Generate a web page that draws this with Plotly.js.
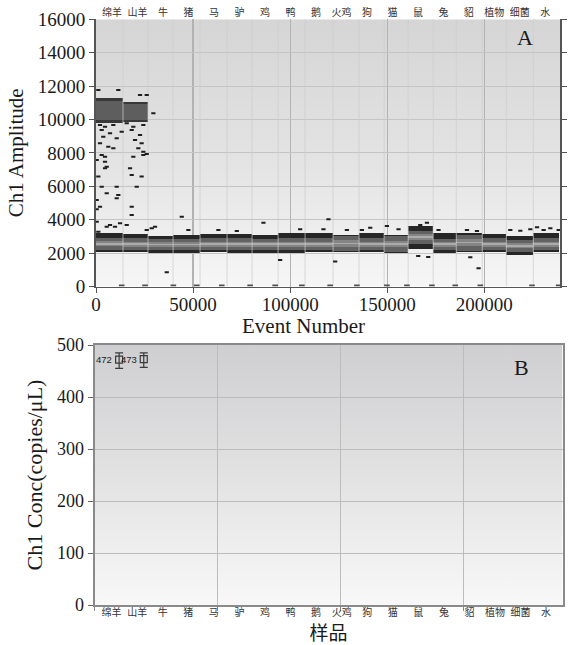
<!DOCTYPE html>
<html>
<head>
<meta charset="utf-8">
<script src="https://cdn.plot.ly/plotly-3.0.1.min.js"></script>
<style>html,body{margin:0;padding:0;background:#fff;}#chart{width:568px;height:645px;}</style>
</head>
<body>
<div id="chart"></div>
<script>
// ---------- DATA ----------
const samples = ['绵羊','山羊','牛','猪','马','驴','鸡','鸭','鹅','火鸡','狗','猫','鼠','兔','貂','植物','细菌','水'];
const eventCounts = [13900,12900,12900,13900,13900,12900,13400,13900,14400,13400,12900,12400,12900,11900,13400,12400,13900,13400];
// negative droplet band (amplitude)
const negLow      = [2050,2050,2000,1980,2050,2000,2000,2000,2050,2080,2050,1990,2250,2030,2080,2050,1890,2080];
const negHigh     = [3200,3150,3050,3100,3150,3150,3100,3200,3200,3080,3200,3100,3650,3200,3180,3150,3000,3200];
const negCoreLow  = [2200,2200,2180,2180,2200,2200,2200,2200,2200,2150,2200,2080,2550,2200,2150,2200,2080,2200];
const negCoreHigh = [2900,2880,2850,2850,2880,2880,2870,2880,2880,3000,2880,3000,3350,2870,3100,2880,2780,2880];
// positive droplet cluster
const posLow  = [9800, 9850, null,null,null,null,null,null,null,null,null,null,null,null,null,null,null,null];
const posHigh = [11300,11050,null,null,null,null,null,null,null,null,null,null,null,null,null,null,null,null];
// individual scattered droplets (event number, amplitude)
const rainEvent = [1190,11500,22680,26130,29540,2060,4640,8920,15830,19230,24380,2940,7220,13250,18400,22680,3760,10670,20100,2060,6340,8920,23510,21800,24380,2940,4640,19230,24380,360,4640,17530,4640,18400,23510,1190,2940,10670,20980,5520,11500,360,10670,2060,18400,18400,360,7220,9790,12370,30410,28710,5520,26130,5520,44180,360,15830,26130,47580,63040,72530,86240,1190,36440,94850,119740,141240,149850,170470,123200,192790,197060,105150,117160,129230,136960,155830,167010,176440,191080,196230,213400,218560,223710,227170,230570,234020,238300,165980,171130];
const rainAmp   = [11770,11770,11470,11470,10370,9670,9570,9670,9770,9570,9670,9370,9170,9270,9370,9070,8970,8880,8770,8580,8370,8280,8580,8280,8070,7880,7770,7770,7880,7580,7470,7080,7080,6680,6580,6580,5980,5980,5980,5580,5480,5180,5280,4780,4780,4280,3880,3680,3580,3790,3580,3490,3580,7940,7170,4180,4620,3680,3380,3380,3380,3320,3820,3280,850,1590,4020,3520,3620,3820,1490,1750,1090,3430,3430,3380,3380,3430,3680,3380,3380,3320,3380,3340,3430,3550,3380,3490,3380,1830,1770];
const zeroEvent = [13250,25260,39840,51900,64790,79380,92270,106030,120620,134380,149850,160160,173040,185050,197940,224590,238300];
const zeroAmp   = [60,60,60,60,60,60,60,60,60,60,60,60,60,60,60,60,60];
// panel B: concentration per well
const concWell     = [1, 2];
const concValue    = [472, 473];
const concErrPlus  = [13, 12];
const concErrMinus = [17, 16];

// ---------- DERIVED ----------
const centers = [], bounds = [];
let acc = 0;
eventCounts.forEach(c => { centers.push(acc + c/2); acc += c; bounds.push(acc); });
const diff = (hi, lo) => hi.map((h,i) => (h==null||lo[i]==null) ? null : h - lo[i]);
const innerLow  = negCoreLow.map((l,i) => l + 0.28*(negCoreHigh[i]-l));
const innerHigh = negCoreHigh.map((h,i) => h - 0.28*(h-negCoreLow[i]));
const midLine   = negCoreLow.map((l,i) => (l + negCoreHigh[i])/2);
const stripeLow = midLine.map(m => m - 45);
const stripeHigh= midLine.map(m => m + 45);
const posInLow  = posLow.map((l,i) => l==null?null: l + 0.1*(posHigh[i]-l));
const posInHigh = posHigh.map((h,i) => h==null?null: h - 0.12*(h-posLow[i]));
const bx = [], by = [];
bounds.slice(0,-1).forEach(b => { bx.push(b,b,null); by.push(0,16000,null); });

function barLayer(lo, hi, color){
  return {type:'bar', x:centers, base:lo, y:diff(hi,lo), width:eventCounts,
    marker:{color:color, line:{width:0}}, xaxis:'x', yaxis:'y', hoverinfo:'skip', showlegend:false};
}

const serif = "'Liberation Serif', 'Times New Roman', serif";
const cjk = "'Noto Sans CJK SC', sans-serif";

const traces = [
  barLayer(posLow, posHigh, '#383838'),
  barLayer(posInLow, posInHigh, '#5e5e5e'),
  barLayer(negLow, negHigh, '#262626'),
  barLayer(negCoreLow, negCoreHigh, '#626262'),
  barLayer(innerLow, innerHigh, '#858585'),
  barLayer(stripeLow, stripeHigh, '#ababab'),
  {type:'scatter', mode:'lines', x:bx, y:by, line:{color:'rgba(205,205,205,0.6)', width:1.2},
   xaxis:'x', yaxis:'y', hoverinfo:'skip', showlegend:false},
  {type:'scatter', mode:'markers', x:rainEvent, y:rainAmp,
   marker:{symbol:'line-ew', size:3, line:{width:2, color:'#1e1e1e'}},
   xaxis:'x', yaxis:'y', showlegend:false, cliponaxis:true},
  {type:'scatter', mode:'markers', x:zeroEvent, y:zeroAmp,
   marker:{symbol:'line-ew', size:4, line:{width:2.2, color:'#505050'}},
   xaxis:'x', yaxis:'y', showlegend:false, cliponaxis:true},
  {type:'scatter', mode:'markers', x:samples.map((s,i)=>i), y:samples.map(()=>null),
   xaxis:'x3', yaxis:'y', showlegend:false, hoverinfo:'skip'},
  {type:'scatter', mode:'markers', x:concWell, y:concValue,
   marker:{symbol:'square-open', size:7, color:'#3a3a3a', line:{width:1.2}},
   error_y:{type:'data', symmetric:false, array:concErrPlus, arrayminus:concErrMinus, color:'#3a3a3a', thickness:1.2, width:4},
   xaxis:'x2', yaxis:'y2', showlegend:false},
  {type:'scatter', mode:'markers', x:samples.map((s,i)=>i), y:samples.map(()=>null),
   xaxis:'x4', yaxis:'y2', showlegend:false, hoverinfo:'skip'}
];

function gradient(stops){
  const s = "<svg xmlns='http://www.w3.org/2000/svg' width='100' height='100' preserveAspectRatio='none'>" +
    "<defs><linearGradient id='g' x1='0' y1='0' x2='0' y2='1'>" +
    stops.map(p => "<stop offset='"+p[0]+"' stop-color='"+p[1]+"'/>").join('') +
    "</linearGradient></defs><rect width='100' height='100' fill='url(#g)'/></svg>";
  return 'data:image/svg+xml;charset=utf-8,' + encodeURIComponent(s);
}

const W = 568, H = 645;
const A = {l:96, r:560, t:19.3, b:286.5};
const B = {l:94.5, r:562.5, t:345, b:605};
const dom = (p) => ({x:[p.l/W, p.r/W], y:[1-p.b/H, 1-p.t/H]});
const dA = dom(A), dB = dom(B);

const tickFontA = {family:serif, size:19, color:'#1a1a1a'};
const tickFontB = {family:serif, size:18, color:'#1a1a1a'};

const layout = {
  width:W, height:H, margin:{l:0,r:0,t:0,b:0},
  paper_bgcolor:'#ffffff', plot_bgcolor:'rgba(0,0,0,0)',
  barmode:'overlay', bargap:0, showlegend:false,
  xaxis:{domain:dA.x, anchor:'y', range:[0,239000], dtick:50000, tick0:0, tickformat:'d',
    ticks:'outside', ticklen:5, tickcolor:'#555', showline:true, linecolor:'#555', linewidth:1.5,
    showgrid:true, gridcolor:'#b2b2b2', gridwidth:1.2, zeroline:false, tickfont:tickFontA, ticklabelstandoff:-5},
  yaxis:{domain:dA.y, anchor:'x', range:[0,16000], dtick:2000, tick0:0, tickformat:'d',
    ticks:'outside', ticklen:5, tickcolor:'#555', showline:true, linecolor:'#555', linewidth:2, mirror:'ticks',
    showgrid:true, gridcolor:'#c4c4c4', gridwidth:1, zeroline:false, tickfont:tickFontA,
    title:{text:'Ch1 Amplitude', font:{family:serif, size:21, color:'#1a1a1a'}, standoff:8}},
  xaxis3:{overlaying:'x', anchor:'y', side:'top', range:[-0.628,17.575],
    tickmode:'array', tickvals:samples.map((s,i)=>i), ticktext:samples,
    ticks:'', showgrid:false, showline:false, zeroline:false, ticklabelstandoff:0,
    tickfont:{family:cjk, size:10, color:'#333'}},
  xaxis2:{domain:dB.x, anchor:'y2', range:[0,19], dtick:5, tick0:0,
    ticks:'outside', ticklen:4, tickcolor:'#888', showline:true, linecolor:'#8a8a8a', linewidth:2, mirror:true,
    showgrid:true, gridcolor:'#bcbcbc', gridwidth:1, zeroline:false, showticklabels:false},
  yaxis2:{domain:dB.y, anchor:'x2', range:[0,500], dtick:100, tick0:0,
    ticks:'outside', ticklen:5, tickcolor:'#666', showline:true, linecolor:'#8a8a8a', linewidth:2, mirror:true,
    showgrid:true, gridcolor:'#bcbcbc', gridwidth:1, zeroline:false, tickfont:tickFontB,
    title:{text:'Ch1 Conc(copies/μL)', font:{family:serif, size:22, color:'#1a1a1a'}, standoff:8}},
  xaxis4:{overlaying:'x2', anchor:'y2', side:'bottom', range:[-0.669,17.641],
    tickmode:'array', tickvals:samples.map((s,i)=>i), ticktext:samples,
    ticks:'', showgrid:false, showline:false, zeroline:false, ticklabelstandoff:0,
    tickfont:{family:cjk, size:10, color:'#333'},
    title:{text:'样品', font:{family:cjk, size:19, color:'#1a1a1a'}, standoff:9}},
  images:[
    {source:gradient([[0,'#d5d5d5'],[0.55,'#e4e4e4'],[0.8,'#eeeeee'],[1,'#f6f6f6']]), xref:'paper', yref:'paper',
     x:dA.x[0], y:dA.y[1], sizex:dA.x[1]-dA.x[0], sizey:dA.y[1]-dA.y[0], xanchor:'left', yanchor:'top', sizing:'stretch', layer:'below'},
    {source:gradient([[0,'#cfcfd1'],[0.5,'#e2e2e3'],[1,'#f8f8f8']]), xref:'paper', yref:'paper',
     x:dB.x[0], y:dB.y[1], sizex:dB.x[1]-dB.x[0], sizey:dB.y[1]-dB.y[0], xanchor:'left', yanchor:'top', sizing:'stretch', layer:'below'}
  ],
  annotations:[
    {text:'Event Number', xref:'paper', yref:'paper', x:303.5/W, y:1-326/H, xanchor:'center', yanchor:'middle',
     showarrow:false, font:{family:serif, size:21, color:'#1a1a1a'}},
    {text:'A', xref:'paper', yref:'paper', x:525/W, y:1-38/H, xanchor:'center', yanchor:'middle',
     showarrow:false, font:{family:serif, size:22, color:'#1a1a1a'}},
    {text:'B', xref:'paper', yref:'paper', x:521/W, y:1-367/H, xanchor:'center', yanchor:'middle',
     showarrow:false, font:{family:serif, size:22, color:'#1a1a1a'}}
  ].concat(concWell.map((w,i) => ({
    text:String(concValue[i]), xref:'x2', yref:'y2', x:w, y:concValue[i], xanchor:'right', yanchor:'middle',
    xshift:-5, showarrow:false, font:{family:"'Liberation Sans', Arial, sans-serif", size:9.5, color:'#222'}
  })))
};

Plotly.newPlot('chart', traces, layout, {staticPlot:true, displayModeBar:false});
</script>
</body>
</html>
